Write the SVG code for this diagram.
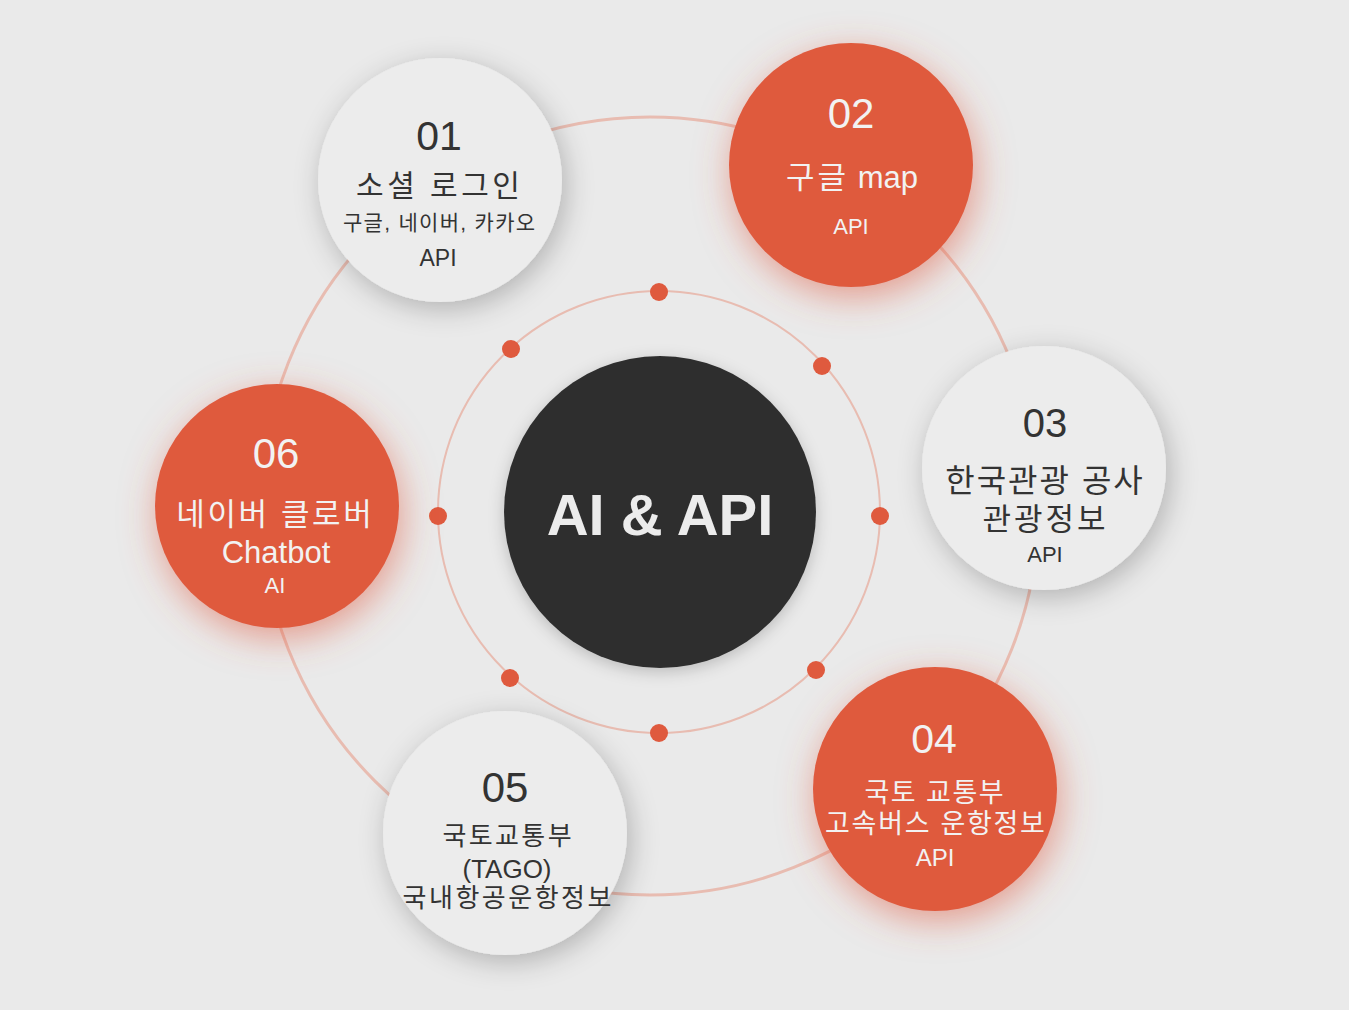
<svg xmlns="http://www.w3.org/2000/svg" width="1349" height="1010" viewBox="0 0 1349 1010">
<defs>
<style>
.t{font-family:"Liberation Sans","Noto Sans CJK KR",sans-serif;text-anchor:middle}
.dk{fill:#333333}
.wt{fill:#f2f2f2}
.light{fill:#ececec;filter:url(#shL)}
.orange{fill:#df5a3e;filter:url(#shO)}
.dot{fill:#df5a3e}
</style>
<filter id="shL" x="-40%" y="-40%" width="180%" height="180%">
<feDropShadow dx="4" dy="7" stdDeviation="14" flood-color="#000" flood-opacity="0.24"/>
</filter>
<filter id="shO" x="-40%" y="-40%" width="180%" height="180%">
<feDropShadow dx="3" dy="10" stdDeviation="18" flood-color="#df5a3e" flood-opacity="0.55"/>
</filter>
<filter id="shC" x="-30%" y="-30%" width="160%" height="160%">
<feDropShadow dx="0" dy="4" stdDeviation="8" flood-color="#000" flood-opacity="0.2"/>
</filter>
</defs>
<rect width="1349" height="1010" fill="#eaeaea"/>
<g id="connectors">
<circle cx="650" cy="506" r="389" fill="none" stroke="#e8bcb1" stroke-width="3"/>
<circle cx="659" cy="512" r="221" fill="none" stroke="#e8bcb1" stroke-width="2"/>
<circle class="dot" cx="659" cy="292" r="9"/>
<circle class="dot" cx="822" cy="366" r="9"/>
<circle class="dot" cx="880" cy="516" r="9"/>
<circle class="dot" cx="816" cy="670" r="9"/>
<circle class="dot" cx="659" cy="733" r="9"/>
<circle class="dot" cx="510" cy="678" r="9"/>
<circle class="dot" cx="438" cy="516" r="9"/>
<circle class="dot" cx="511" cy="349" r="9"/>
</g>
<g id="center">
<circle cx="660" cy="512" r="156" fill="#2f2f2f" filter="url(#shC)"/>
<text class="t" x="660" y="535" font-size="58" font-weight="bold" fill="#ececec">AI &amp; API</text>
</g>
<g id="node01">
<circle class="light" cx="440" cy="180" r="122"/>
<text class="t dk" x="439" y="150" font-size="41">01</text>
<text class="t dk" x="438" y="196" font-size="30" letter-spacing="3.5" dx="1.75">소셜 로그인</text>
<text class="t dk" x="439" y="230" font-size="21" letter-spacing="1.3" dx="0.65">구글, 네이버, 카카오</text>
<text class="t dk" x="438" y="266" font-size="23">API</text>
</g>
<g id="node02">
<circle class="orange" cx="851" cy="165" r="122"/>
<text class="t wt" x="851" y="128" font-size="42">02</text>
<text class="t wt" x="852" y="188" font-size="31"><tspan letter-spacing="3">구글</tspan> map</text>
<text class="t wt" x="851" y="234" font-size="22">API</text>
</g>
<g id="node03">
<circle class="light" cx="1044" cy="468" r="122"/>
<text class="t dk" x="1045" y="437" font-size="40">03</text>
<text class="t dk" x="1044" y="492" font-size="32" letter-spacing="2" dx="1">한국관광 공사</text>
<text class="t dk" x="1044" y="530" font-size="31" letter-spacing="3" dx="1.5">관광정보</text>
<text class="t dk" x="1045" y="562" font-size="22">API</text>
</g>
<g id="node04">
<circle class="orange" cx="935" cy="789" r="122"/>
<text class="t wt" x="934" y="753" font-size="41">04</text>
<text class="t wt" x="934" y="802" font-size="27" letter-spacing="1.5" dx="0.75">국토 교통부</text>
<text class="t wt" x="935" y="833" font-size="27" letter-spacing="1.7" dx="0.85">고속버스 운항정보</text>
<text class="t wt" x="935" y="866" font-size="24">API</text>
</g>
<g id="node05">
<circle class="light" cx="505" cy="833" r="122"/>
<text class="t dk" x="505" y="802" font-size="42">05</text>
<text class="t dk" x="507" y="845" font-size="26" letter-spacing="2.4" dx="1.2">국토교통부</text>
<text class="t dk" x="507" y="878" font-size="26">(TAGO)</text>
<text class="t dk" x="507" y="907" font-size="26" letter-spacing="2.5" dx="1.25">국내항공운항정보</text>
</g>
<g id="node06">
<circle class="orange" cx="277" cy="506" r="122"/>
<text class="t wt" x="276" y="468" font-size="42">06</text>
<text class="t wt" x="274" y="525" font-size="31" letter-spacing="2.6" dx="1.3">네이버 클로버</text>
<text class="t wt" x="276" y="563" font-size="31">Chatbot</text>
<text class="t wt" x="275" y="593" font-size="22">AI</text>
</g>
</svg>
